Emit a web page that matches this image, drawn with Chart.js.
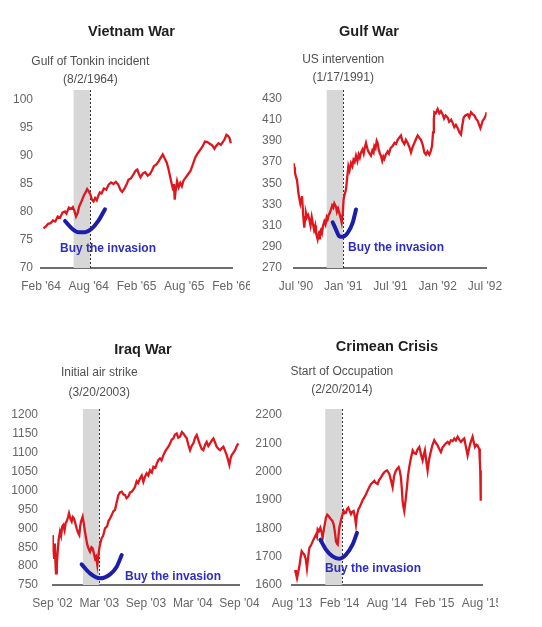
<!DOCTYPE html>
<html><head><meta charset="utf-8">
<script src="https://cdn.jsdelivr.net/npm/chart.js@4"></script>
<style>
html,body{margin:0;padding:0;background:#fff;width:542px;height:627px;overflow:hidden;}
canvas{position:absolute;display:block;}
</style></head><body>
<canvas id="c1" width="250" height="300" style="left:0;top:0"></canvas>
<canvas id="c2" width="250" height="300" style="left:252px;top:0"></canvas>
<canvas id="c3" width="259" height="307" style="left:0;top:320px"></canvas>
<canvas id="c4" width="246" height="307" style="left:252px;top:320px"></canvas>
<script>
const FONT = '"Liberation Sans", Arial, sans-serif';

// Shared x tick positions (months from start of window)
const xTickValues = [0, 6, 12, 18, 24];

// ---- Vietnam War ----
const vietnamTitle = "Vietnam War";
const vietnamEventLabel = ["Gulf of Tonkin incident", "(8/2/1964)"];
const vietnamXLabels = ["Feb '64", "Aug '64", "Feb '65", "Aug '65", "Feb '66"];
const vietnamYTicks = [70, 75, 80, 85, 90, 95, 100];
const vietnamMonths = [0.3,0.6,0.9,1.2,1.5,1.8,2.1,2.4,2.7,3.0,3.2,3.5,3.8,4.0,4.2,4.4,4.6,4.8,5.0,5.2,5.4,5.6,5.8,6.0,6.2,6.4,6.6,6.8,7.0,7.2,7.4,7.6,7.9,8.2,8.5,8.8,9.1,9.4,9.7,10.0,10.2,10.5,10.8,11.0,11.3,11.6,11.9,12.1,12.3,12.5,12.8,13.1,13.4,13.7,14.0,14.2,14.5,14.8,15.0,15.3,15.5,15.8,16.0,16.2,16.4,16.6,16.7,16.8,16.9,17.1,17.3,17.5,17.7,17.9,18.2,18.5,18.8,19.1,19.4,19.7,20.0,20.3,20.6,20.9,21.2,21.5,21.8,22.0,22.3,22.6,22.9,23.1,23.3,23.5,23.7,23.85];
const vietnamValues = [77.1,77.4,77.9,78.0,78.5,78.3,79.2,79.0,79.9,80.1,79.7,80.8,80.6,80.9,80.2,79.2,79.8,81.0,81.6,82.3,83.0,83.5,84.1,83.7,83.2,82.2,81.9,82.5,82.1,82.9,83.5,83.3,84.2,84.0,84.9,85.3,85.0,85.4,84.9,83.9,83.6,84.2,85.1,85.8,86.0,86.7,87.4,87.6,86.8,86.2,86.9,87.1,86.5,86.8,87.6,88.2,88.5,89.1,89.6,90.3,89.7,88.8,87.8,86.5,85.2,84.0,85.0,82.2,83.6,85.5,84.4,85.2,84.6,85.6,86.2,86.8,87.4,88.6,89.8,90.5,91.1,91.7,92.6,92.5,92.2,91.9,91.3,91.8,92.3,92.0,92.6,93.1,93.8,93.6,93.2,92.3];
const vietnamShade = [4.1, 6.2];
const vietnamArcMonths = [3.02, 3.85, 4.69, 5.53, 6.36, 7.20, 8.04];
const vietnamArcValues = [78.4, 77.1, 76.4, 76.4, 77.0, 78.4, 80.5];

// ---- Gulf War ----
const gulfTitle = "Gulf War";
const gulfEventLabel = ["US intervention", "(1/17/1991)"];
const gulfXLabels = ["Jul '90", "Jan '91", "Jul '91", "Jan '92", "Jul '92"];
const gulfYTicks = [270, 290, 310, 330, 350, 370, 390, 410, 430];
const gulfMonths = [-0.3,-0.2,-0.13,0.0,0.13,0.22,0.30,0.42,0.55,0.65,0.76,0.85,0.93,1.0,1.06,1.15,1.27,1.4,1.55,1.69,1.85,2.0,2.12,2.3,2.45,2.54,2.65,2.75,2.85,2.95,3.05,3.17,3.3,3.45,3.60,3.75,3.9,4.02,4.15,4.3,4.44,4.6,4.75,4.87,5.0,5.08,5.2,5.35,5.50,5.65,5.80,5.95,6.05,6.2,6.35,6.5,6.65,6.8,6.98,7.15,7.3,7.45,7.62,7.8,7.95,8.1,8.25,8.45,8.6,8.75,8.89,9.05,9.19,9.35,9.52,9.7,9.85,9.95,10.1,10.25,10.37,10.5,10.65,10.79,10.95,11.1,11.22,11.4,11.64,11.8,12.0,12.27,12.5,12.7,12.91,13.1,13.33,13.5,13.76,13.95,14.18,14.4,14.60,14.8,15.03,15.25,15.45,15.65,15.87,16.1,16.30,16.5,16.7,16.93,17.1,17.27,17.4,17.5,17.57,17.75,17.99,18.2,18.4,18.62,18.8,19.0,19.26,19.45,19.7,19.89,20.1,20.3,20.53,20.75,20.95,21.1,21.29,21.5,21.8,22.0,22.22,22.45,22.65,22.85,23.07,23.25,23.41,23.55,23.70,23.9,24.1,24.2];
const gulfValues = [369,365,360,356,353,347,341,336,331,335,338,328,319,312,308,316,322,318,320,316,310,318,313,306,310,303,300,297,301,298,304,306,303,310,314,311,318,316,320,322,325,329,327,331,329,328,323,326,322,318,313,322,335,340,344,355,366,362,369,366,372,370,376,371,377,374,379,382,378,384,388,383,380,378,376,381,379,385,383,390,388,382,378,376,371,375,373,377,380,378,383,385,388,387,391,393,395,390,387,391,388,384,379,384,388,392,395,393,391,386,379,377,380,377,380,385,398,410,417,416,420,416,418,415,411,414,412,408,410,407,403,405,402,398,396,404,412,414,415,412,417,415,414,411,409,405,402,405,409,411,414,417];
const gulfShade = [3.9, 6.0];
const gulfArcMonths = [4.66, 5.08, 5.50, 5.93, 6.56, 7.19, 7.62];
const gulfArcValues = [313.2, 306.3, 300.0, 299.4, 303.1, 312.6, 325.2];

// ---- Iraq War ----
const iraqTitle = "Iraq War";
const iraqEventLabel = ["Initial air strike", "(3/20/2003)"];
const iraqXLabels = ["Sep '02", "Mar '03", "Sep '03", "Mar '04", "Sep '04"];
const iraqYTicks = [750, 800, 850, 900, 950, 1000, 1050, 1100, 1150, 1200];
const iraqMonths = [0.0,0.05,0.1,0.2,0.3,0.4,0.45,0.55,0.66,0.8,0.96,1.1,1.25,1.39,1.55,1.7,1.82,2.0,2.12,2.3,2.46,2.6,2.76,2.95,3.10,3.25,3.44,3.55,3.66,3.87,4.0,4.17,4.3,4.47,4.65,4.81,5.0,5.16,5.3,5.46,5.6,5.75,5.9,6.01,6.15,6.31,6.5,6.74,7.0,7.2,7.38,7.6,7.8,8.02,8.2,8.45,8.65,8.88,9.1,9.31,9.5,9.73,9.95,10.16,10.4,10.59,10.8,11.0,11.23,11.45,11.66,11.9,12.09,12.3,12.52,12.75,12.95,13.2,13.4,13.59,13.8,14.0,14.23,14.5,14.87,15.1,15.3,15.51,15.7,15.94,16.15,16.37,16.6,16.8,17.0,17.23,17.45,17.65,17.85,18.08,18.3,18.51,18.7,18.93,19.15,19.36,19.6,19.79,20.0,20.22,20.45,20.65,20.85,21.07,21.3,21.5,21.7,21.93,22.15,22.36,22.55,22.7,22.85,23.0,23.2,23.43,23.65,23.85];
const iraqValues = [882,850,838,822,860,800,781,800,838,872,891,880,905,909,895,915,918,930,940,925,918,930,926,912,900,890,882,905,918,931,915,891,875,856,845,838,850,847,835,820,825,803,830,847,862,874,880,900,905,920,926,935,945,949,965,988,995,997,990,988,980,984,995,997,1003,1010,1025,1020,1032,1040,1023,1038,1046,1040,1054,1048,1063,1060,1072,1081,1085,1080,1094,1105,1116,1125,1135,1138,1148,1151,1140,1143,1155,1151,1145,1138,1120,1107,1118,1125,1140,1147,1135,1121,1110,1107,1122,1129,1118,1125,1133,1138,1128,1116,1110,1107,1112,1116,1105,1094,1080,1068,1085,1094,1100,1107,1118,1125];
const iraqShade = [3.9, 6.0];
const iraqArcMonths = [3.74, 4.81, 6.09, 7.38, 8.24, 8.88];
const iraqArcValues = [804.7, 780.9, 767.6, 778.2, 798.5, 829.4];

// ---- Crimean Crisis ----
const crimeaTitle = "Crimean Crisis";
const crimeaEventLabel = ["Start of Occupation", "(2/20/2014)"];
const crimeaXLabels = ["Aug '13", "Feb '14", "Aug '14", "Feb '15", "Aug '15"];
const crimeaYTicks = [1600, 1700, 1800, 1900, 2000, 2100, 2200];
const crimeaMonths = [0.38,0.5,0.63,0.78,0.93,1.05,1.22,1.4,1.56,1.75,1.89,2.05,2.19,2.4,2.61,2.8,3.03,3.15,3.24,3.4,3.58,3.75,3.87,4.05,4.29,4.45,4.59,4.75,4.92,5.1,5.26,5.4,5.56,5.7,5.77,5.88,5.98,6.12,6.27,6.4,6.52,6.65,6.82,6.95,7.11,7.3,7.45,7.6,7.79,7.95,8.08,8.2,8.38,8.55,8.71,8.9,9.13,9.35,9.55,9.75,9.97,10.2,10.4,10.6,10.82,11.0,11.24,11.45,11.66,11.85,12.0,12.15,12.29,12.5,12.71,12.9,13.13,13.3,13.47,13.6,13.76,13.87,13.97,14.08,14.18,14.35,14.52,14.65,14.81,15.0,15.24,15.45,15.66,15.85,16.08,16.3,16.5,16.65,16.79,16.95,17.13,17.3,17.47,17.7,17.97,18.2,18.39,18.6,18.81,19.0,19.23,19.45,19.66,19.85,20.08,20.3,20.5,20.7,20.92,21.15,21.34,21.55,21.76,21.95,22.18,22.35,22.52,22.65,22.81,22.95,23.11,23.3,23.44,23.55,23.65,23.72,23.78,23.82,23.86];
const crimeaValues = [1653,1640,1624,1645,1665,1690,1719,1712,1707,1690,1659,1700,1731,1740,1754,1765,1778,1770,1796,1790,1802,1785,1766,1800,1838,1848,1844,1838,1832,1826,1814,1790,1754,1745,1743,1775,1802,1820,1838,1850,1861,1853,1855,1868,1873,1860,1850,1858,1861,1840,1814,1845,1867,1875,1885,1898,1909,1920,1933,1945,1956,1962,1968,1960,1956,1970,1980,1990,1998,2002,2004,1998,1992,1970,1945,1985,2004,2010,2016,2005,1980,1940,1897,1875,1861,1900,1945,1985,2016,2045,2075,2065,2063,2078,2087,2060,2040,2060,2075,2040,2004,2040,2063,2090,2111,2100,2093,2080,2069,2085,2093,2100,2105,2098,2111,2108,2117,2110,2123,2112,2105,2112,2117,2090,2057,2080,2099,2110,2123,2105,2087,2095,2093,2085,2081,2040,2004,1950,1897];
const crimeaShade = [4.2, 6.3];
const crimeaArcMonths = [3.58, 4.29, 5.13, 5.98, 6.82, 7.66, 8.21];
const crimeaArcValues = [1760, 1725, 1701, 1693, 1707, 1743, 1784];

function annotPlugin(p) {
  return {
    id: 'annot_' + p.canvas,
    beforeDatasetsDraw(chart) {
      const {ctx, chartArea: a, scales: {x}} = chart;
      const x0 = x.getPixelForValue(p.shade[0]);
      const x1 = x.getPixelForValue(p.shade[1]);
      ctx.save();
      ctx.fillStyle = '#d7d7d7';
      ctx.fillRect(x0, a.top, x1 - x0, a.bottom - a.top);
      ctx.strokeStyle = '#333';
      ctx.lineWidth = 1;
      ctx.setLineDash([2, 2]);
      ctx.beginPath();
      ctx.moveTo(Math.round(x1) + 0.5, a.top);
      ctx.lineTo(Math.round(x1) + 0.5, a.bottom);
      ctx.stroke();
      ctx.restore();
    },
    afterDatasetsDraw(chart) {
      const {ctx, scales: {x}} = chart;
      ctx.save();
      ctx.font = 'bold 12px ' + FONT;
      ctx.fillStyle = '#2e2ec2';
      ctx.textAlign = 'left';
      ctx.textBaseline = 'middle';
      ctx.fillText('Buy the invasion', p.buyX, p.buyY);
      // title
      ctx.font = 'bold 14.5px ' + FONT;
      ctx.fillStyle = '#1e1e1e';
      ctx.textAlign = 'center';
      ctx.fillText(p.title, p.titleX, p.titleY);
      // event annotation
      const ex = x.getPixelForValue(p.shade[1]);
      ctx.font = '12px ' + FONT;
      ctx.fillStyle = '#505050';
      p.eventLabel.forEach((t, i) => ctx.fillText(t, ex, p.annY[i]));
      ctx.restore();
    }
  };
}

function makeChart(p) {
  const pts = p.months.map((m, i) => ({x: m, y: p.values[i]}));
  const arc = p.arcMonths.map((m, i) => ({x: m, y: p.arcValues[i]}));
  new Chart(document.getElementById(p.canvas), {
    type: 'line',
    data: {datasets: [
      {data: pts, borderColor: '#dd171d', borderWidth: 2.3, pointRadius: 0, tension: 0, order: 2},
      {data: arc, borderColor: '#1d1dac', borderWidth: 4, pointRadius: 0, cubicInterpolationMode: 'monotone', borderCapStyle: 'round', order: 1}
    ]},
    options: {
      responsive: false, animation: false, events: [],
      layout: {padding: {left: 0, right: p.padRight, top: p.padTop, bottom: p.padBottom}},
      plugins: {legend: {display: false}, tooltip: {enabled: false}, title: {display: false}},
      scales: {
        x: {
          type: 'linear', min: p.xMin, max: p.xMax,
          grid: {display: false, drawTicks: false},
          border: {display: true, color: '#6e6e6e', width: 2},
          ticks: {autoSkip: false, maxRotation: 0, padding: 11, color: '#666', font: {family: FONT, size: 12},
                  callback: (v, i) => p.xLabels[i]},
          afterBuildTicks: s => { s.ticks = xTickValues.map(v => ({value: v})); },
          afterFit: s => { s.height = 30; s.paddingLeft = 0; s.paddingRight = 0; }
        },
        y: {
          type: 'linear', min: p.yMin, max: p.yMax,
          grid: {display: false, drawTicks: false},
          border: {display: false},
          ticks: {padding: p.yPad, color: '#666', font: {family: FONT, size: 12},
                  callback: v => String(v)},
          afterBuildTicks: s => { s.ticks = p.yTicks.map(v => ({value: v})); },
          afterFit: s => { s.width = p.yWidth; s.paddingTop = 0; s.paddingBottom = 0; }
        }
      }
    },
    plugins: [annotPlugin(p)]
  });
}

makeChart({canvas: 'c1', title: vietnamTitle, eventLabel: vietnamEventLabel, xLabels: vietnamXLabels, yTicks: vietnamYTicks,
  months: vietnamMonths, values: vietnamValues, shade: vietnamShade, arcMonths: vietnamArcMonths, arcValues: vietnamArcValues,
  xMin: 0, xMax: 24, yMin: 70, yMax: 101.8, yWidth: 41, yPad: 8, padRight: 18, padTop: 90, padBottom: 2,
  titleX: 131.5, titleY: 32, annY: [62, 80], buyX: 60, buyY: 249});

makeChart({canvas: 'c2', title: gulfTitle, eventLabel: gulfEventLabel, xLabels: gulfXLabels, yTicks: gulfYTicks,
  months: gulfMonths, values: gulfValues, shade: gulfShade, arcMonths: gulfArcMonths, arcValues: gulfArcValues,
  xMin: -0.3, xMax: 24.2, yMin: 270, yMax: 438, yWidth: 41.6, yPad: 11.6, padRight: 15.4, padTop: 90, padBottom: 2,
  titleX: 117, titleY: 32, annY: [60, 78], buyX: 96, buyY: 248});

makeChart({canvas: 'c3', title: iraqTitle, eventLabel: iraqEventLabel, xLabels: iraqXLabels, yTicks: iraqYTicks,
  months: iraqMonths, values: iraqValues, shade: iraqShade, arcMonths: iraqArcMonths, arcValues: iraqArcValues,
  xMin: 0, xMax: 24, yMin: 750, yMax: 1216, yWidth: 52.5, yPad: 14.5, padRight: 19.5, padTop: 89, padBottom: 12,
  titleX: 143, titleY: 30, annY: [53, 73], buyX: 125, buyY: 257});

makeChart({canvas: 'c4', title: crimeaTitle, eventLabel: crimeaEventLabel, xLabels: crimeaXLabels, yTicks: crimeaYTicks,
  months: crimeaMonths, values: crimeaValues, shade: crimeaShade, arcMonths: crimeaArcMonths, arcValues: crimeaArcValues,
  xMin: 0, xMax: 24, yMin: 1600, yMax: 2221, yWidth: 40, yPad: 10, padRight: 16, padTop: 89, padBottom: 12,
  titleX: 135, titleY: 27, annY: [52, 70], buyX: 73, buyY: 249});
</script>
</body></html>
